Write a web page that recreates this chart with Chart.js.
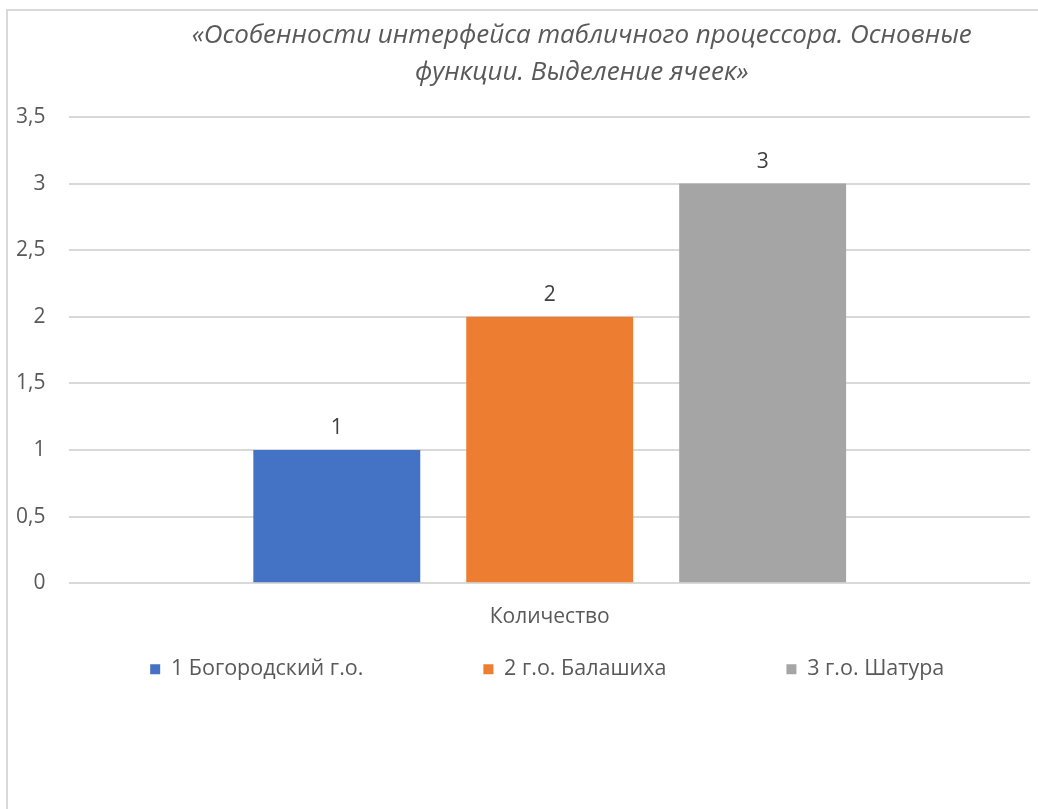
<!DOCTYPE html>
<html lang="ru">
<head>
<meta charset="utf-8" />
<title>Выделение ячеек</title>
<script src="https://cdn.jsdelivr.net/npm/chart.js@4.4.1/dist/chart.umd.min.js"></script>
<style>
  html, body { margin: 0; padding: 0; background: #fff; overflow: hidden; }
  /* светлая рамка области диаграммы, как в Excel */
  .edge { position: absolute; background: #d9d9d9; }
  #edgeTop { left: 6px; top: 9px; width: 1032px; height: 2px; }
  #edgeLeft { left: 6px; top: 9px; width: 2px; height: 800px; }
  #chart { position: absolute; left: 0; top: 0; }
</style>
</head>
<body>
<div class="edge" id="edgeTop"></div>
<div class="edge" id="edgeLeft"></div>
<canvas id="chart" width="1038" height="809"></canvas>
<script>
// данные
const categories = ['Количество'];
const seriesNames = ['1 Богородский г.о.', '2 г.о. Балашиха', '3 г.о. Шатура'];
const seriesValues = [[1], [2], [3]];
const seriesColors = ['#4472c4', '#ed7d31', '#a5a5a5'];
const yMin = 0, yMax = 3.5, yStep = 0.5;
const titleLines = ['«Особенности интерфейса табличного процессора. Основные', 'функции. Выделение ячеек»'];

const FONT = "'Open Sans', 'Liberation Sans', sans-serif";
Chart.defaults.font.family = FONT;
Chart.defaults.color = '#595959';

const comma = v => String(v).replace('.', ',');

// подписи значений над столбцами
const valueLabels = {
  id: 'valueLabels',
  afterDatasetsDraw(chart) {
    const ctx = chart.ctx;
    ctx.save();
    ctx.font = '21px ' + FONT;
    ctx.fillStyle = '#404040';
    ctx.textAlign = 'center';
    ctx.textBaseline = 'middle';
    chart.data.datasets.forEach((ds, i) => {
      chart.getDatasetMeta(i).data.forEach((bar, j) => {
        ctx.fillText(comma(ds.data[j]), bar.x, bar.y - 22);
      });
    });
    ctx.restore();
  }
};

// заголовок правее центра графика, легенда чуть левее и выше
const shiftBlocks = {
  id: 'shiftBlocks',
  afterLayout(chart) {
    const mid = (chart.chartArea.left + chart.chartArea.right) / 2;
    const t = chart.titleBlock;
    const dt = mid + 32 - (t.left + t.right) / 2;
    t.left += dt; t.right += dt;
    const lg = chart.legend;
    const dl = mid - 2.5 - (lg.left + lg.right) / 2;
    lg.left += dl; lg.right += dl;
    lg.top -= 112; lg.bottom -= 112;
  }
};

new Chart(document.getElementById('chart'), {
  type: 'bar',
  data: {
    labels: categories,
    datasets: seriesNames.map((name, i) => ({
      label: name,
      data: seriesValues[i],
      backgroundColor: seriesColors[i],
      categoryPercentage: 0.665,
      barPercentage: 0.784
    }))
  },
  options: {
    responsive: false,
    animation: false,
    layout: { padding: { top: 8, left: -8, right: 8, bottom: 7 } },
    scales: {
      x: {
        grid: { display: false, drawTicks: false },
        border: { display: false },
        ticks: { padding: 21, font: { size: 21 } }
      },
      y: {
        min: yMin,
        max: yMax,
        grid: { color: '#d9d9d9', lineWidth: 2, drawTicks: false },
        border: { display: false },
        ticks: { stepSize: yStep, padding: 24, font: { size: 21 }, callback: v => comma(v) }
      }
    },
    plugins: {
      tooltip: { enabled: false },
      title: {
        display: true,
        text: titleLines,
        color: '#595959',
        font: { size: 26, style: 'italic', weight: 'normal', lineHeight: '37px' },
        padding: { top: 9.5, bottom: 25.5 }
      },
      legend: {
        position: 'bottom',
        labels: { boxWidth: 10, boxHeight: 10, padding: 120, font: { size: 21.5 } }
      }
    }
  },
  plugins: [valueLabels, shiftBlocks]
});
</script>
</body>
</html>
